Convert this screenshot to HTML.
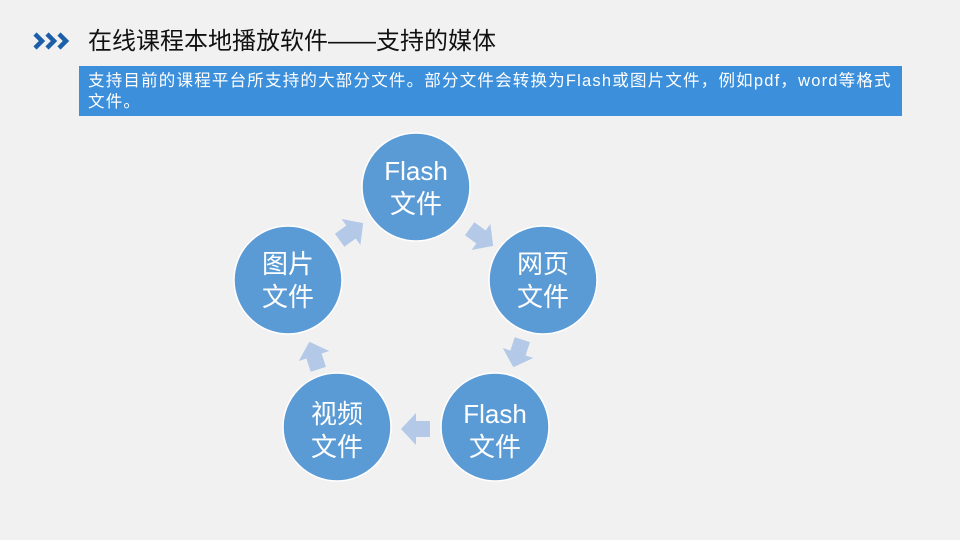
<!DOCTYPE html>
<html><head><meta charset="utf-8"><style>
body{margin:0;width:960px;height:540px;overflow:hidden;background:#f1f1f2;font-family:"Liberation Sans","Noto Sans CJK SC",sans-serif;position:relative}
.t{position:absolute;left:88px;top:27px;font-size:24px;color:#111;white-space:nowrap;line-height:30px}
.b{position:absolute;left:79px;top:66px;width:823px;height:50px;background:#3b8fdb;color:#fff;font-size:16.5px;line-height:21px;padding:5px 0 0 9px;box-sizing:border-box;letter-spacing:1.2px;white-space:nowrap}
</style></head><body>
<svg width="960" height="540" style="position:absolute;left:0;top:0">
<g fill="none" stroke="#1d5ea8" stroke-width="4.5">
<polyline points="35,34 42,41 35,48"/><polyline points="47,34 54,41 47,48"/><polyline points="59,34 66,41 59,48"/>
</g>
<g fill="#5b9bd5" stroke="#fff" stroke-width="1.5">
<circle cx="416" cy="187" r="54"/><circle cx="543" cy="280" r="54"/><circle cx="495" cy="427" r="54"/><circle cx="337" cy="427" r="54"/><circle cx="288" cy="280" r="54"/>
</g>
<g fill="#b4c9e8">
<polygon points="-14,-8 0,-8 0,-16 15,0 0,16 0,8 -14,8" transform="translate(351,232) rotate(-36)"/>
<polygon points="-14,-8 0,-8 0,-16 15,0 0,16 0,8 -14,8" transform="translate(481,237) rotate(36)"/>
<polygon points="-14,-8 0,-8 0,-16 15,0 0,16 0,8 -14,8" transform="translate(518,353) rotate(108)"/>
<polygon points="-14,-8 0,-8 0,-16 15,0 0,16 0,8 -14,8" transform="translate(416,429) rotate(180)"/>
<polygon points="-14,-8 0,-8 0,-16 15,0 0,16 0,8 -14,8" transform="translate(314,356) rotate(-108)"/>
</g>
<g fill="#fff" font-size="26" text-anchor="middle" font-family="Liberation Sans,Noto Sans CJK SC,sans-serif">
<text x="416" y="180">Flash</text><text x="416" y="213">文件</text>
<text x="543" y="273">网页</text><text x="543" y="306">文件</text>
<text x="495" y="423">Flash</text><text x="495" y="456">文件</text>
<text x="337" y="423">视频</text><text x="337" y="456">文件</text>
<text x="288" y="273">图片</text><text x="288" y="306">文件</text>
</g>
</svg>
<div class="t">在线课程本地播放软件——支持的媒体</div>
<div class="b">支持目前的课程平台所支持的大部分文件。部分文件会转换为Flash或图片文件，例如pdf，word等格式<br>文件。</div>
</body></html>
